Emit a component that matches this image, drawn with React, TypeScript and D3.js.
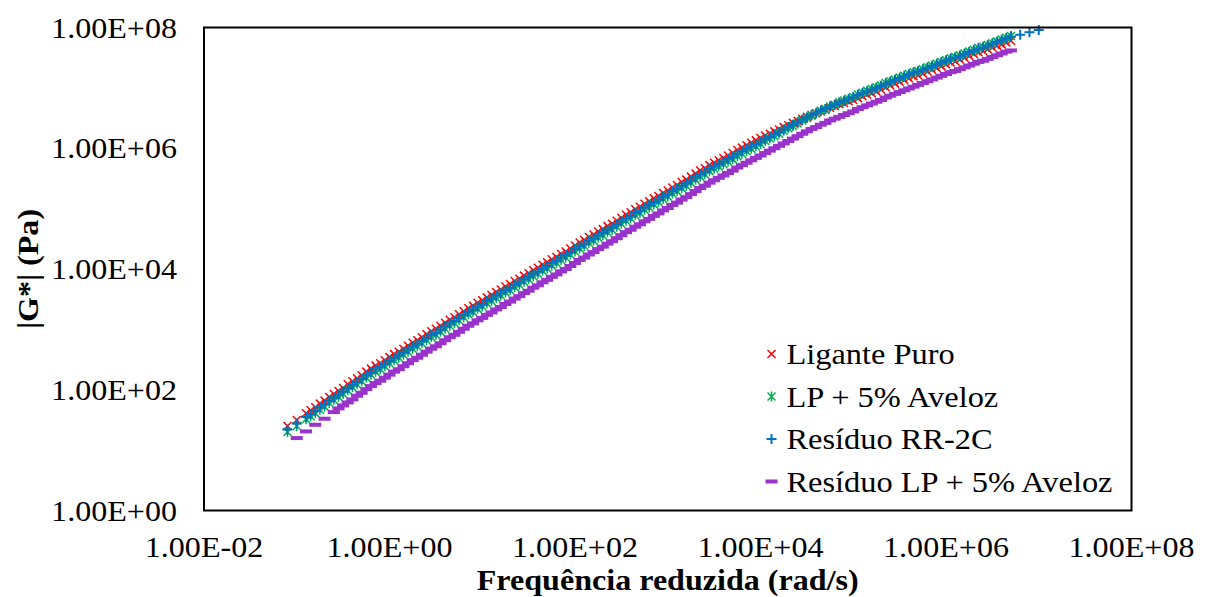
import React from "react";
import * as d3 from "d3";

// log10 of reduced frequency (rad/s), main sweep points shared by the three upper series
const freqLog: number[] = [
  -1.1, -1.0, -0.9, -0.8, -0.7, -0.6, -0.5, -0.4, -0.3, -0.2, -0.1, 0.0, 0.1, 0.2, 0.3, 0.4, 0.5, 0.6, 0.7, 0.8,
  0.9, 1.0, 1.1, 1.2, 1.3, 1.4, 1.5, 1.6, 1.7, 1.8, 1.9, 2.0, 2.1, 2.2, 2.3, 2.4, 2.5, 2.6, 2.7, 2.8,
  2.9, 3.0, 3.1, 3.2, 3.3, 3.4, 3.5, 3.6, 3.7, 3.8, 3.9, 4.0, 4.1, 4.2, 4.3, 4.4, 4.5, 4.6, 4.7, 4.8,
  4.9, 5.0, 5.1, 5.2, 5.3, 5.4, 5.5, 5.6, 5.7, 5.8, 5.9, 6.0, 6.1, 6.2, 6.3, 6.4, 6.5, 6.6, 6.7,
];
// overlapping sweep points (between the main ones)
const freqLogB: number[] = [
  -0.85, -0.75, -0.65, -0.55, -0.45, -0.35, -0.25, -0.15, -0.05, 0.05, 0.15, 0.25, 0.35, 0.45, 0.55, 0.65, 0.75, 0.85,
  0.95, 1.05, 1.15, 1.25, 1.35, 1.45, 1.55, 1.65, 1.75, 1.85, 1.95, 2.05, 2.15, 2.25, 2.35, 2.45, 2.55, 2.65, 2.75, 2.85,
  2.95, 3.05, 3.15, 3.25, 3.35, 3.45, 3.55, 3.65, 3.75, 3.85, 3.95, 4.05, 4.15, 4.25, 4.35, 4.45, 4.55, 4.65, 4.75, 4.85,
  4.95, 5.05, 5.15, 5.25, 5.35, 5.45, 5.55, 5.65, 5.75, 5.85, 5.95, 6.05, 6.15, 6.25, 6.35, 6.45, 6.55, 6.65,
];

// log10 |G*| (Pa) — Ligante Puro
const ligantePuro: number[] = [
  1.40, 1.50, 1.61, 1.71, 1.82, 1.93, 2.03, 2.14, 2.24, 2.35, 2.44, 2.54, 2.63, 2.73, 2.82, 2.92, 3.01, 3.11, 3.20, 3.30,
  3.39, 3.48, 3.57, 3.66, 3.75, 3.84, 3.93, 4.02, 4.11, 4.20, 4.29, 4.39, 4.48, 4.57, 4.66, 4.75, 4.85, 4.94, 5.03, 5.12,
  5.21, 5.30, 5.39, 5.48, 5.58, 5.67, 5.76, 5.84, 5.92, 6.01, 6.09, 6.17, 6.24, 6.31, 6.38, 6.45, 6.52, 6.58, 6.64, 6.70,
  6.75, 6.80, 6.86, 6.91, 6.97, 7.04, 7.10, 7.16, 7.21, 7.27, 7.33, 7.39, 7.44, 7.50, 7.56, 7.61, 7.67, 7.72, 7.78,
];
const ligantePuroB: number[] = [
  1.66, 1.77, 1.88, 1.98, 2.09, 2.19, 2.30, 2.40, 2.49, 2.59, 2.68, 2.78, 2.87, 2.97, 3.06, 3.16, 3.25, 3.35,
  3.44, 3.53, 3.62, 3.71, 3.80, 3.89, 3.98, 4.07, 4.16, 4.25, 4.34, 4.44, 4.53, 4.62, 4.71, 4.80, 4.90, 4.99, 5.08, 5.17,
  5.26, 5.35, 5.44, 5.53, 5.63, 5.72, 5.80, 5.88, 5.97, 6.05, 6.13, 6.21, 6.28, 6.35, 6.42, 6.49, 6.55, 6.61, 6.67, 6.73,
  6.78, 6.83, 6.89, 6.94, 7.01, 7.07, 7.13, 7.19, 7.24, 7.30, 7.36, 7.42, 7.47, 7.53, 7.59, 7.64, 7.70, 7.75,
];

// log10 |G*| (Pa) — LP + 5% Aveloz
const lpAveloz: number[] = [
  1.30, 1.40, 1.51, 1.61, 1.72, 1.83, 1.93, 2.04, 2.14, 2.25, 2.34, 2.44, 2.53, 2.63, 2.72, 2.82, 2.91, 3.01, 3.10, 3.20,
  3.29, 3.38, 3.47, 3.56, 3.65, 3.74, 3.83, 3.92, 4.01, 4.10, 4.19, 4.29, 4.38, 4.47, 4.56, 4.65, 4.75, 4.84, 4.93, 5.02,
  5.11, 5.20, 5.29, 5.38, 5.48, 5.57, 5.66, 5.74, 5.82, 5.91, 5.99, 6.07, 6.16, 6.24, 6.33, 6.41, 6.50, 6.58, 6.65, 6.72,
  6.79, 6.85, 6.92, 6.98, 7.04, 7.11, 7.17, 7.23, 7.28, 7.34, 7.40, 7.46, 7.51, 7.57, 7.63, 7.68, 7.74, 7.80, 7.86,
];
const lpAvelozB: number[] = [
  1.56, 1.67, 1.78, 1.88, 1.99, 2.09, 2.20, 2.30, 2.39, 2.49, 2.58, 2.68, 2.77, 2.87, 2.96, 3.06, 3.15, 3.25,
  3.34, 3.43, 3.52, 3.61, 3.70, 3.79, 3.88, 3.97, 4.06, 4.15, 4.24, 4.34, 4.43, 4.52, 4.61, 4.70, 4.80, 4.89, 4.98, 5.07,
  5.16, 5.25, 5.34, 5.43, 5.53, 5.62, 5.70, 5.78, 5.87, 5.95, 6.03, 6.12, 6.20, 6.29, 6.37, 6.46, 6.54, 6.62, 6.69, 6.76,
  6.82, 6.89, 6.95, 7.01, 7.08, 7.14, 7.20, 7.26, 7.31, 7.37, 7.43, 7.49, 7.54, 7.60, 7.66, 7.71, 7.77, 7.83,
];

// Resíduo RR-2C has three extra high-frequency points
const freqLogRR: number[] = [...freqLog, 6.8, 6.9, 7.0];
const residuoRR: number[] = [
  1.34, 1.44, 1.55, 1.65, 1.76, 1.87, 1.97, 2.08, 2.18, 2.29, 2.38, 2.48, 2.57, 2.67, 2.76, 2.86, 2.95, 3.05, 3.14, 3.24,
  3.33, 3.42, 3.51, 3.60, 3.69, 3.78, 3.87, 3.96, 4.05, 4.14, 4.23, 4.33, 4.42, 4.51, 4.60, 4.69, 4.79, 4.88, 4.97, 5.06,
  5.15, 5.24, 5.33, 5.42, 5.52, 5.61, 5.70, 5.78, 5.86, 5.95, 6.03, 6.11, 6.19, 6.27, 6.35, 6.43, 6.51, 6.58, 6.65, 6.72,
  6.78, 6.84, 6.91, 6.97, 7.03, 7.10, 7.16, 7.22, 7.27, 7.33, 7.39, 7.45, 7.50, 7.56, 7.62, 7.67, 7.73, 7.79, 7.85,
  7.88, 7.92, 7.96,
];
const residuoRRB: number[] = [
  1.60, 1.71, 1.82, 1.92, 2.03, 2.13, 2.24, 2.34, 2.43, 2.53, 2.62, 2.72, 2.81, 2.91, 3.00, 3.10, 3.19, 3.29,
  3.38, 3.47, 3.56, 3.65, 3.74, 3.83, 3.92, 4.01, 4.10, 4.19, 4.28, 4.38, 4.47, 4.56, 4.65, 4.74, 4.84, 4.93, 5.02, 5.11,
  5.20, 5.29, 5.38, 5.47, 5.57, 5.66, 5.74, 5.82, 5.91, 5.99, 6.07, 6.15, 6.23, 6.31, 6.39, 6.47, 6.55, 6.62, 6.69, 6.75,
  6.81, 6.88, 6.94, 7.00, 7.07, 7.13, 7.19, 7.25, 7.30, 7.36, 7.42, 7.48, 7.53, 7.59, 7.65, 7.70, 7.76, 7.82,
];

// Resíduo LP + 5% Aveloz starts one step later
const freqLogResLP: number[] = freqLog.slice(1);
const residuoLP: number[] = [
  1.20, 1.31, 1.42, 1.52, 1.63, 1.74, 1.84, 1.95, 2.06, 2.15, 2.25, 2.34, 2.44, 2.53, 2.63, 2.72, 2.82, 2.91, 3.01,
  3.10, 3.19, 3.28, 3.37, 3.46, 3.55, 3.64, 3.73, 3.82, 3.91, 4.00, 4.10, 4.19, 4.28, 4.37, 4.46, 4.56, 4.65, 4.74, 4.83,
  4.92, 5.01, 5.10, 5.19, 5.29, 5.38, 5.47, 5.55, 5.63, 5.72, 5.80, 5.88, 5.96, 6.04, 6.12, 6.20, 6.28, 6.35, 6.42, 6.49,
  6.55, 6.61, 6.68, 6.74, 6.80, 6.87, 6.93, 6.99, 7.05, 7.11, 7.17, 7.23, 7.28, 7.34, 7.40, 7.45, 7.51, 7.57, 7.62,
];
const freqLogResLPB: number[] = freqLogB.slice(3);
const residuoLPB: number[] = [
  1.69, 1.79, 1.90, 2.01, 2.11, 2.20, 2.30, 2.39, 2.49, 2.58, 2.68, 2.77, 2.87, 2.96, 3.06,
  3.15, 3.24, 3.33, 3.42, 3.51, 3.60, 3.69, 3.78, 3.87, 3.96, 4.05, 4.15, 4.24, 4.33, 4.42, 4.51, 4.61, 4.70, 4.79, 4.88,
  4.97, 5.06, 5.15, 5.24, 5.34, 5.43, 5.51, 5.59, 5.68, 5.76, 5.84, 5.92, 6.00, 6.08, 6.16, 6.24, 6.32, 6.39, 6.46, 6.52,
  6.58, 6.65, 6.71, 6.77, 6.84, 6.90, 6.96, 7.02, 7.08, 7.14, 7.20, 7.26, 7.31, 7.37, 7.43, 7.48, 7.54, 7.60,
];

const xTicks: number[] = [1e-2, 1e0, 1e2, 1e4, 1e6, 1e8];
const yTicks: number[] = [1e0, 1e2, 1e4, 1e6, 1e8];
const seriesNames: string[] = ["Ligante Puro", "LP + 5% Aveloz", "Resíduo RR-2C", "Resíduo LP + 5% Aveloz"];

const W = 1206;
const H = 597;
const L = 204, R = 1131.5, T = 27.5, B = 510.5;
const FONT = "'Liberation Serif', 'Times New Roman', serif";
const RED = "#FF0000", GREEN = "#00B050", BLUE = "#0070C0", PURPLE = "#9933CC";
const SX = 1.07;

const fmt = (v: number) => {
  const e = Math.round(Math.log10(v));
  const s = e < 0 ? "-" : "+";
  const a = Math.abs(e);
  return `1.00E${s}${a < 10 ? "0" + a : a}`;
};

type Kind = "x" | "star" | "plus" | "dash";

function Marker({ kind, x, y }: { kind: Kind; x: number; y: number }) {
  if (kind === "x")
    return <path d={`M${x - 4},${y - 4}L${x + 4},${y + 4}M${x - 4},${y + 4}L${x + 4},${y - 4}`} stroke={RED} strokeWidth={1.5} fill="none" />;
  if (kind === "star")
    return <path d={`M${x - 4},${y - 4}L${x + 4},${y + 4}M${x - 4},${y + 4}L${x + 4},${y - 4}M${x},${y - 5}L${x},${y + 5}`} stroke={GREEN} strokeWidth={1.5} fill="none" />;
  if (kind === "plus")
    return <path d={`M${x - 5},${y}L${x + 5},${y}M${x},${y - 5}L${x},${y + 5}`} stroke={BLUE} strokeWidth={2} fill="none" />;
  return <rect x={x - 6} y={y - 2} width={12} height={4} fill={PURPLE} />;
}

function Txt(props: { x: number; y: number; sx?: number; rotate?: number; anchor?: string; dy?: string; bold?: boolean; baseline?: string; children: React.ReactNode }) {
  const { x, y, sx = SX, rotate = 0, anchor = "start", dy, bold, baseline, children } = props;
  return (
    <text
      transform={`translate(${x},${y})${rotate ? ` rotate(${rotate})` : ""} scale(${sx},1)`}
      textAnchor={anchor}
      dy={dy}
      dominantBaseline={baseline}
      fontSize={30}
      fontWeight={bold ? "bold" : "normal"}
      fill="#000"
    >
      {children}
    </text>
  );
}

export default function App() {
  const xs = d3.scaleLog().domain([1e-2, 1e8]).range([L, R]);
  const ys = d3.scaleLog().domain([1e0, 1e8]).range([B, T]);

  const groups: { kind: Kind; sets: [number[], number[]][] }[] = [
    { kind: "x", sets: [[freqLog, ligantePuro], [freqLogB, ligantePuroB]] },
    { kind: "star", sets: [[freqLog, lpAveloz], [freqLogB, lpAvelozB]] },
    { kind: "plus", sets: [[freqLogRR, residuoRR], [freqLogB, residuoRRB]] },
    { kind: "dash", sets: [[freqLogResLP, residuoLP], [freqLogResLPB, residuoLPB]] },
  ];
  const kinds: Kind[] = ["x", "star", "plus", "dash"];

  return (
    <svg width={W} height={H} style={{ position: "absolute", left: 0, top: 0, background: "#fff" }} fontFamily={FONT}>
      <rect x={0} y={0} width={W} height={H} fill="#fff" />
      {groups.map((g, gi) => (
        <g key={gi}>
          {g.sets.map(([fx, gy], si) =>
            fx.map((f, i) => (
              <Marker key={`${si}-${i}`} kind={g.kind} x={xs(Math.pow(10, f))} y={ys(Math.pow(10, gy[i]))} />
            ))
          )}
        </g>
      ))}
      <rect x={L} y={T} width={R - L} height={B - T} fill="none" stroke="#000" strokeWidth={2} />
      {yTicks.map((v) => (
        <Txt key={v} x={L - 27} y={ys(v)} dy="0.34em" anchor="end">{fmt(v)}</Txt>
      ))}
      {xTicks.map((v) => (
        <Txt key={v} x={xs(v)} y={B + 25} dy="0.71em" anchor="middle">{fmt(v)}</Txt>
      ))}
      <Txt x={(L + R) / 2} y={590} anchor="middle" bold>Frequência reduzida (rad/s)</Txt>
      <Txt x={28} y={(T + B) / 2} rotate={-90} anchor="middle" baseline="central" bold>|G*| (Pa)</Txt>
      {seriesNames.map((n, i) => {
        const y = 354 + i * 42.5;
        return (
          <g key={n}>
            <Marker kind={kinds[i]} x={771.5} y={y} />
            <Txt x={786.5} y={y} dy="0.34em" sx={1.08}>{n}</Txt>
          </g>
        );
      })}
    </svg>
  );
}
